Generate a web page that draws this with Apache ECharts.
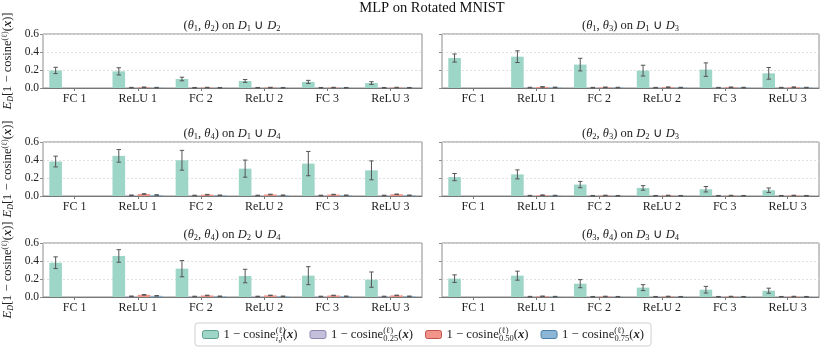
<!DOCTYPE html>
<html><head><meta charset="utf-8">
<script src="https://cdn.jsdelivr.net/npm/echarts@6/dist/echarts.min.js"></script>
<style>html,body{margin:0;padding:0;background:#fff}#c{width:825px;height:349px}</style>
</head><body><div id="c"></div>
<script>
const layers = ['FC 1', 'ReLU 1', 'FC 2', 'ReLU 2', 'FC 3', 'ReLU 3'];
const mainTitle = 'MLP on Rotated MNIST';
const panelPairs = [[1, 2], [1, 3], [1, 4], [2, 3], [2, 4], [3, 4]];
const seriesNames = ['ij', 'q25', 'q50', 'q75'];
const legendSubs = ['i,j', '0.25', '0.50', '0.75'];
const yTickValues = [0, 0.2, 0.4, 0.6];

// teal: 1 - cosine_{i,j}
const tealMean = [
  [0.195, 0.185, 0.100, 0.078, 0.068, 0.055],
  [0.333, 0.348, 0.260, 0.193, 0.204, 0.163],
  [0.383, 0.446, 0.397, 0.304, 0.360, 0.285],
  [0.210, 0.240, 0.127, 0.090, 0.075, 0.064],
  [0.381, 0.456, 0.315, 0.233, 0.237, 0.193],
  [0.204, 0.237, 0.148, 0.104, 0.081, 0.070]
];
const tealErr = [
  [0.035, 0.040, 0.020, 0.016, 0.017, 0.015],
  [0.045, 0.065, 0.070, 0.060, 0.075, 0.065],
  [0.060, 0.070, 0.110, 0.095, 0.135, 0.105],
  [0.040, 0.050, 0.035, 0.025, 0.030, 0.025],
  [0.065, 0.070, 0.090, 0.075, 0.100, 0.085],
  [0.042, 0.050, 0.045, 0.033, 0.037, 0.028]
];
const purpleMean = [
  [0, 0.004, 0.003, 0.003, 0.003, 0.003],
  [0, 0.005, 0.004, 0.004, 0.004, 0.004],
  [0, 0.008, 0.006, 0.006, 0.006, 0.006],
  [0, 0.004, 0.003, 0.003, 0.003, 0.003],
  [0, 0.008, 0.006, 0.006, 0.006, 0.006],
  [0, 0.004, 0.003, 0.003, 0.003, 0.003]
];
const redMean = [
  [0, 0.008, 0.005, 0.005, 0.005, 0.005],
  [0, 0.012, 0.008, 0.009, 0.008, 0.009],
  [0, 0.022, 0.015, 0.017, 0.016, 0.019],
  [0, 0.009, 0.006, 0.006, 0.005, 0.006],
  [0, 0.024, 0.017, 0.018, 0.017, 0.018],
  [0, 0.008, 0.006, 0.006, 0.005, 0.005]
];
const blueMean = [
  [0, 0.004, 0.003, 0.003, 0.003, 0.003],
  [0, 0.007, 0.005, 0.005, 0.005, 0.005],
  [0, 0.011, 0.008, 0.008, 0.008, 0.008],
  [0, 0.005, 0.003, 0.003, 0.003, 0.003],
  [0, 0.013, 0.008, 0.008, 0.008, 0.008],
  [0, 0.004, 0.003, 0.003, 0.003, 0.003]
];
const smallErr = [0, 0.003, 0.003, 0.003, 0.003, 0.003];

const FONT = 'Liberation Serif';
const colors = ['#9dd5c7', '#c4c0dc', '#f29489', '#8cb6d5'];
const edges = ['#5f9f8d', '#8c88ad', '#c0544c', '#4d7fa6'];

const colLeft = [42, 442], colWidth = [380, 377], rowTop = [34, 142, 243], plotH = 54;

const grids = [], xAxes = [], yAxes = [], series = [], graphics = [];

const richBase = {
  it: {fontStyle: 'italic', fontFamily: FONT, fontSize: 12.5},
  s: {fontSize: 8.5, fontFamily: FONT, lineHeight: 8, verticalAlign: 'bottom'}
};

function errRender(params, api) {
  const xi = api.value(0), y = api.value(1), e = api.value(2), k = api.value(3);
  const band = api.size([1, 0])[0];
  const bw = band * 0.8 / 4;
  const c = api.coord([xi, y]);
  const x = c[0] + (k - 1.5) * bw;
  const top = api.coord([xi, y + e])[1];
  const bot = api.coord([xi, Math.max(0, y - e)])[1];
  const cap = 2.2;
  const st = {stroke: '#555', lineWidth: 1};
  return {type: 'group', children: [
    {type: 'line', shape: {x1: x, y1: top, x2: x, y2: bot}, style: st},
    {type: 'line', shape: {x1: x - cap, y1: top, x2: x + cap, y2: top}, style: st},
    {type: 'line', shape: {x1: x - cap, y1: bot, x2: x + cap, y2: bot}, style: st}
  ]};
}

panelPairs.forEach((pr, i) => {
  const row = Math.floor(i / 2), col = i % 2;
  grids.push({left: colLeft[col], width: colWidth[col], top: rowTop[row], height: plotH,
    show: true, borderColor: '#8c8c8c', borderWidth: 1, backgroundColor: 'transparent'});
  xAxes.push({type: 'category', gridIndex: i, data: layers,
    axisLine: {show: true, lineStyle: {color: '#777', width: 1}},
    axisTick: {show: true, alignWithLabel: true, length: 3, lineStyle: {color: '#777'}},
    axisLabel: {fontFamily: FONT, fontSize: 12, color: '#222', margin: 5}});
  const yMain = {type: 'value', gridIndex: i, min: 0, max: 0.6, interval: 0.2,
    axisLine: {show: false},
    axisTick: {show: true, length: 3, lineStyle: {color: '#8c8c8c'}},
    splitLine: {show: true, lineStyle: {color: '#d9d9d9', type: [2, 2], width: 0.8}},
    axisLabel: {show: col === 0, fontFamily: FONT, fontSize: 11.5, color: '#222', margin: 4,
      formatter: v => v.toFixed(1)}};
  if (col === 0) {
    yMain.name = '{it|E}{si|D}[1 − cosine{sup|(ℓ)}({bx|x})]';
    yMain.nameLocation = 'middle';
    yMain.nameGap = 28;
    yMain.nameRotate = 90;
    yMain.nameTextStyle = {fontFamily: FONT, fontSize: 12.5, color: '#222', lineHeight: 14,
      rich: {
        it: {fontStyle: 'italic', fontFamily: FONT, fontSize: 12.5, lineHeight: 14},
        si: {fontStyle: 'italic', fontFamily: FONT, fontSize: 8, lineHeight: 8, verticalAlign: 'bottom'},
        sup: {fontFamily: FONT, fontSize: 8, lineHeight: 8, verticalAlign: 'top'},
        bx: {fontFamily: FONT, fontSize: 12.5, fontStyle: 'italic', fontWeight: 'bold', lineHeight: 14}
      }};
  }
  const yIdx = yAxes.length;
  yAxes.push(yMain);
  if (col === 1) {
    yAxes.push({type: 'value', gridIndex: i, min: 0, max: 0.6, interval: 0.2, offset: 9,
      axisLine: {show: true, lineStyle: {color: '#555', width: 1.5}},
      axisTick: {show: false}, axisLabel: {show: false}, splitLine: {show: false}});
  }
  const means = [tealMean[i], purpleMean[i], redMean[i], blueMean[i]];
  means.forEach((arr, k) => {
    series.push({type: 'bar', name: seriesNames[k], xAxisIndex: i, yAxisIndex: yIdx,
      data: arr, barGap: '0%', barCategoryGap: '20%',
      itemStyle: {color: colors[k]}, emphasis: {disabled: true}});
  });
  const errData = [];
  means.forEach((arr, k) => {
    arr.forEach((v, j) => {
      const e = k === 0 ? tealErr[i][j] : smallErr[j];
      if (v > 0) errData.push([j, v, e, k]);
    });
  });
  series.push({type: 'custom', xAxisIndex: i, yAxisIndex: yIdx, renderItem: errRender,
    data: errData, z: 5, silent: true});
  graphics.push({type: 'text', x: colLeft[col] + colWidth[col] / 2, y: rowTop[row] - 8,
    style: {text: '({it|θ}{s|' + pr[0] + '}, {it|θ}{s|' + pr[1] + '}) on {it|D}{s|' + pr[0] + '} ∪ {it|D}{s|' + pr[1] + '}',
      fontFamily: FONT, fontSize: 12.5, fill: '#222', align: 'center', verticalAlign: 'middle',
      lineHeight: 14, rich: richBase}});
});

graphics.push({type: 'text', x: 432, y: 8,
  style: {text: mainTitle, fontFamily: FONT, fontSize: 14.5, fill: '#111', align: 'center', verticalAlign: 'middle'}});

const legendLabel = {};
seriesNames.forEach((n, k) => {
  const subStyle = k === 0 ? 'subi' : 'sub';
  legendLabel[n] = '1 − cosine{sup|(ℓ)}{' + subStyle + '|' + legendSubs[k] + '}({bx|x})';
});

const option = {
  animation: false,
  textStyle: {fontFamily: FONT},
  grid: grids, xAxis: xAxes, yAxis: yAxes, series: series, graphic: graphics,
  legend: {
    top: 323, left: 195, itemWidth: 16, itemHeight: 8, itemGap: 12,
    borderColor: '#cfcfcf', borderWidth: 1, borderRadius: 3, padding: [3, 7],
    data: seriesNames.map((n, k) => ({name: n, itemStyle: {color: colors[k], borderColor: edges[k], borderWidth: 1}})),
    formatter: n => legendLabel[n],
    textStyle: {fontFamily: FONT, fontSize: 12.7, color: '#222', lineHeight: 17,
      rich: {
        sup: {fontFamily: FONT, fontSize: 8.5, lineHeight: 8, verticalAlign: 'top', width: 0.1},
        sub: {fontFamily: FONT, fontSize: 8.5, lineHeight: 8, verticalAlign: 'bottom'},
        subi: {fontFamily: FONT, fontSize: 8.5, fontStyle: 'italic', lineHeight: 8, verticalAlign: 'bottom'},
        bx: {fontFamily: FONT, fontSize: 12.7, fontStyle: 'italic', fontWeight: 'bold', lineHeight: 17}
      }}
  }
};
const chart = echarts.init(document.getElementById('c'), null, {renderer: 'canvas'});
chart.setOption(option);
</script></body></html>
